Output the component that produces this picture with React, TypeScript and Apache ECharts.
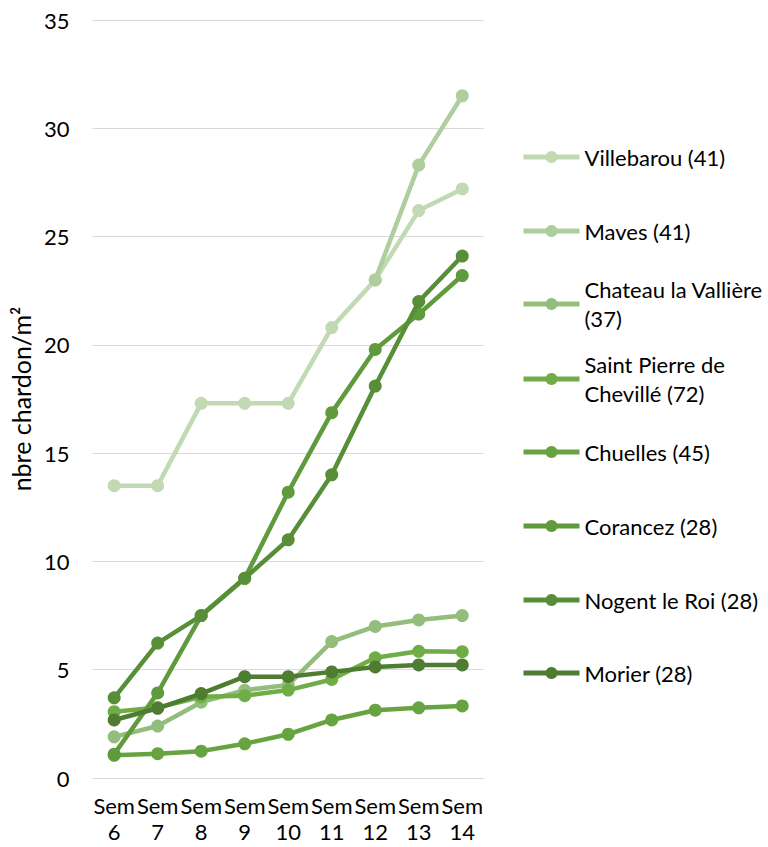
import React, { useEffect, useRef } from "react";
import * as echarts from "echarts";

const categories = ["Sem\n6", "Sem\n7", "Sem\n8", "Sem\n9", "Sem\n10", "Sem\n11", "Sem\n12", "Sem\n13", "Sem\n14"];

const seriesNames = [
  "Villebarou (41)",
  "Maves (41)",
  "Chateau la Vallière (37)",
  "Saint Pierre de Chevillé (72)",
  "Chuelles (45)",
  "Corancez (28)",
  "Nogent le Roi (28)",
  "Morier (28)",
];

const legendLabels = [
  "Villebarou (41)",
  "Maves (41)",
  "Chateau la Vallière\n(37)",
  "Saint Pierre de\nChevillé (72)",
  "Chuelles (45)",
  "Corancez (28)",
  "Nogent le Roi (28)",
  "Morier (28)",
];

const villebarou = [13.5, 13.5, 17.3, 17.3, 17.3, 20.8, 23.0, 26.2, 27.2];
const maves = [null, null, null, null, null, null, 23.0, 28.3, 31.5];
const chateau = [1.9, 2.4, 3.5, 4.05, 4.3, 6.3, 7.0, 7.3, 7.5];
const saintPierre = [3.06, 3.25, 3.75, 3.8, 4.06, 4.55, 5.55, 5.85, 5.83];
const chuelles = [1.05, 1.12, 1.24, 1.58, 2.02, 2.68, 3.13, 3.24, 3.33];
const corancez = [1.1, 3.93, 7.5, 9.22, 13.2, 16.87, 19.79, 21.42, 23.2];
const nogent = [3.7, 6.23, 7.5, 9.22, 11.0, 14.0, 18.1, 22.0, 24.1];
const morier = [2.68, 3.22, 3.9, 4.68, 4.68, 4.9, 5.13, 5.22, 5.22];

const seriesData = [villebarou, maves, chateau, saintPierre, chuelles, corancez, nogent, morier];

const colors = ["#c2dab4", "#afce9d", "#93bd7b", "#70ad47", "#67a441", "#5f9b3c", "#578e37", "#4e7c30"];

const legendCenters = [157, 231, 304, 379, 452, 526, 600, 673];

const FONT = "Lato, 'Liberation Sans', sans-serif";

export default function App() {
  const ref = useRef<HTMLDivElement>(null);

  useEffect(() => {
    document.body.style.margin = "0";
    if (!ref.current) return;
    const chart = echarts.init(ref.current, undefined, { renderer: "svg" });

    const legends = seriesNames.map((name, i) => {
      const twoLine = legendLabels[i].includes("\n");
      const lh = 29;
      const top = twoLine ? legendCenters[i] - lh * 1.5 : legendCenters[i] - lh / 2;
      return {
        data: [name],
        orient: "vertical",
        left: 521,
        top,
        padding: 0,
        itemWidth: 56,
        itemHeight: 15,
        selectedMode: false,
        formatter: () => legendLabels[i],
        lineStyle: { width: 5 },
        textStyle: {
          fontFamily: FONT,
          fontSize: 22,
          color: "#000000",
          lineHeight: lh,
          padding: twoLine ? [lh, 0, 0, 0] : 0,
        },
      };
    });

    const option = {
      animation: false,
      color: colors,
      grid: { left: 90, right: 284, top: 20, bottom: 69, containLabel: false },
      legend: legends,
      xAxis: {
        type: "category",
        data: categories,
        boundaryGap: true,
        axisLine: { show: true, lineStyle: { color: "#d9d9d9", width: 1 } },
        axisTick: { show: false },
        axisLabel: {
          interval: 0,
          margin: 14,
          fontFamily: FONT,
          fontSize: 22,
          lineHeight: 26,
          color: "#000000",
        },
        splitLine: { show: false },
      },
      yAxis: {
        type: "value",
        min: 0,
        max: 35,
        interval: 5,
        name: "nbre chardon/m²",
        nameLocation: "middle",
        nameGap: 57,
        nameTextStyle: { fontFamily: FONT, fontSize: 25, color: "#000000" },
        axisLine: { show: false },
        axisTick: { show: false },
        axisLabel: { margin: 23, fontFamily: FONT, fontSize: 22, color: "#000000" },
        splitLine: { show: true, lineStyle: { color: "#d9d9d9", width: 1 } },
      },
      series: seriesNames.map((name, i) => ({
        name,
        type: "line",
        data: seriesData[i],
        symbol: "circle",
        symbolSize: 13,
        showSymbol: true,
        connectNulls: false,
        lineStyle: { width: 4.5, color: colors[i] },
        itemStyle: { color: colors[i] },
        emphasis: { disabled: true },
        z: 2 + i,
      })),
    };

    chart.setOption(option as any);
    return () => chart.dispose();
  }, []);

  return <div ref={ref} style={{ width: 768, height: 847 }} />;
}
